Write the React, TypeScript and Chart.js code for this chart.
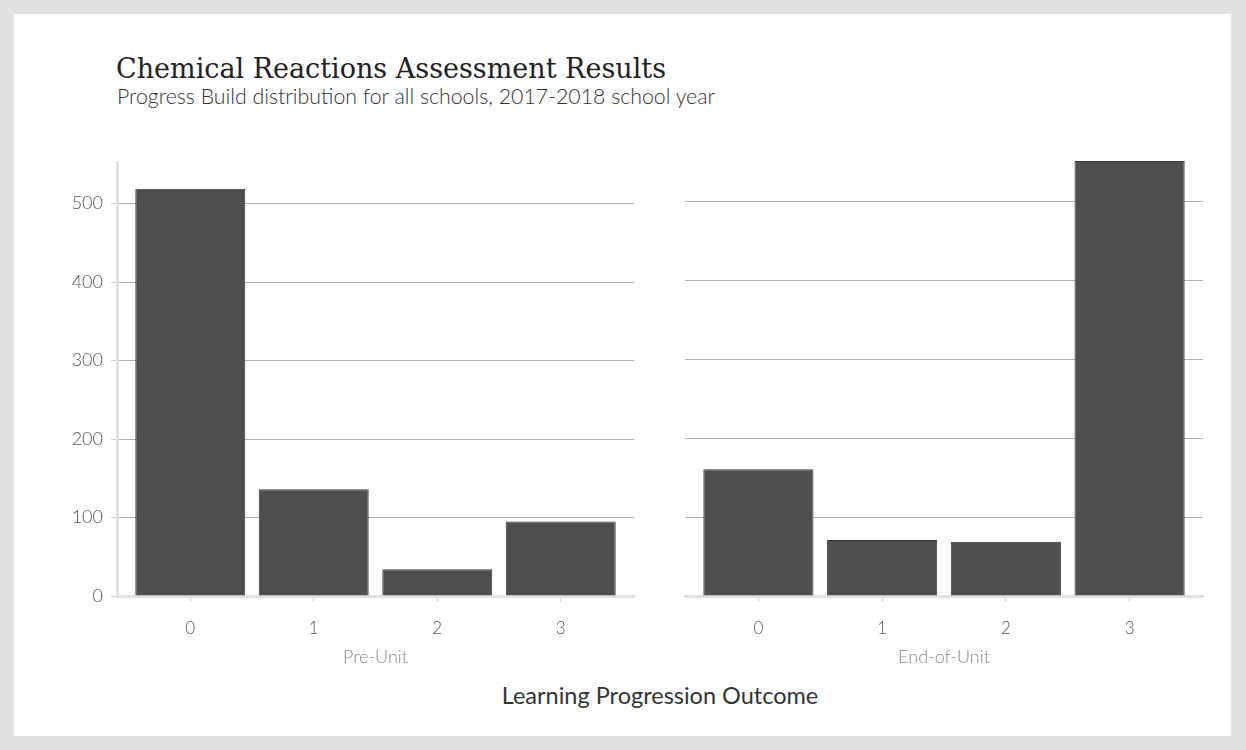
import React, { useEffect, useRef } from "react";
import { Chart, registerables } from "chart.js";
Chart.register(...registerables);

const outcomes = ["0", "1", "2", "3"];
const preUnit = [519, 136, 34, 95];
const endOfUnit = [161, 71, 69, 552];
const yTicks = [0, 100, 200, 300, 400, 500];
const panelLabels = ["Pre-Unit", "End-of-Unit"];
const yMax = 552;
const titleText = "Chemical Reactions Assessment Results";
const subtitleText = "Progress Build distribution for all schools, 2017-2018 school year";
const xAxisTitle = "Learning Progression Outcome";

const FONT = "Lato";

function makeConfig(values: number[], label: string, showY: boolean, yWidth: number, padRight: number, padTop: number): any {
  return {
    type: "bar",
    data: {
      datasets: [
        {
          data: values.map((v, i) => ({ x: i, y: v })),
          backgroundColor: "#4e4e4e",
          borderColor: "#3a3a3a",
          borderWidth: 1,
          barPercentage: 0.89,
          categoryPercentage: 1,
        },
      ],
    },
    options: {
      animation: false,
      responsive: false,
      maintainAspectRatio: false,
      layout: { padding: { top: padTop, right: padRight, left: 0, bottom: 0 } },
      plugins: { legend: { display: false }, tooltip: { enabled: false }, title: { display: false } },
      scales: {
        x: {
          type: "linear",
          offset: false,
          min: -0.593,
          max: 3.593,
          afterBuildTicks: (scale: any) => {
            scale.ticks = outcomes.map((_, i) => ({ value: i }));
          },
          afterFit: (scale: any) => {
            scale.height = 84;
          },
          ticks: {
            autoSkip: false,
            maxRotation: 0,
            padding: 16,
            color: "#555",
            font: { family: FONT, size: 17, weight: "300" },
            callback: (v: any) => outcomes[Math.round(Number(v))],
          },
          grid: {
            display: true,
            offset: false,
            drawOnChartArea: false,
            drawTicks: true,
            tickLength: 6,
            tickColor: "#d0d0d0",
          },
          border: { display: true, color: "#e2e2e2", width: 3 },
          title: {
            display: true,
            text: label,
            color: "#888",
            font: { family: FONT, size: 18, weight: "300" },
            padding: { top: 0, bottom: 12 },
          },
        },
        y: {
          min: 0,
          max: yMax,
          afterBuildTicks: (scale: any) => {
            scale.ticks = yTicks.map((v) => ({ value: v }));
          },
          afterFit: (scale: any) => {
            scale.width = yWidth;
          },
          ticks: {
            display: showY,
            padding: 8,
            color: "#555",
            font: { family: FONT, size: 18, weight: "300" },
          },
          grid: {
            color: "#b0b0b0",
            lineWidth: 1,
            drawTicks: showY,
            tickLength: 6,
            tickColor: "#d0d0d0",
          },
          border: { display: showY, color: "#e2e2e2", width: 3 },
        },
      },
    },
  };
}

function Panel(props: { values: number[]; label: string; showY: boolean; left: number; top: number; width: number; height: number; yWidth: number; padRight: number; padTop: number }) {
  const ref = useRef<HTMLCanvasElement | null>(null);
  useEffect(() => {
    if (!ref.current) return;
    const chart = new Chart(ref.current, makeConfig(props.values, props.label, props.showY, props.yWidth, props.padRight, props.padTop));
    return () => chart.destroy();
  }, []);
  return (
    <canvas
      ref={ref}
      width={props.width}
      height={props.height}
      style={{ position: "absolute", left: props.left, top: props.top, width: props.width, height: props.height }}
    />
  );
}

export default function App() {
  return (
    <div style={{ position: "fixed", left: 0, top: 0, width: 1246, height: 750, background: "#e1e2e4", overflow: "hidden" }}>
      <div style={{ position: "absolute", left: 14, top: 14, width: 1217, height: 722, background: "#ffffff" }} />
      <div
        style={{
          position: "absolute",
          left: 116,
          top: 52,
          fontFamily: "'DejaVu Serif'",
          fontSize: 27,
          lineHeight: "34px",
          color: "#222",
          whiteSpace: "nowrap",
        }}
      >
        {titleText}
      </div>
      <div
        style={{
          position: "absolute",
          left: 117,
          top: 84,
          fontFamily: FONT,
          fontWeight: 300,
          fontSize: 21.3,
          lineHeight: "25px",
          color: "#333",
          whiteSpace: "nowrap",
        }}
      >
        {subtitleText}
      </div>
      <Panel values={preUnit} label={panelLabels[0]} showY={true} left={40} top={144} width={600} height={536} yWidth={77} padRight={6} padTop={5} />
      <Panel values={endOfUnit} label={panelLabels[1]} showY={false} left={660} top={150} width={550} height={530} yWidth={25} padRight={7} padTop={11} />
      <div
        style={{
          position: "absolute",
          left: 0,
          width: 1320,
          top: 681,
          textAlign: "center",
          fontFamily: FONT,
          fontSize: 23.5,
          lineHeight: "28px",
          color: "#333",
          whiteSpace: "nowrap",
        }}
      >
        {xAxisTitle}
      </div>
    </div>
  );
}
